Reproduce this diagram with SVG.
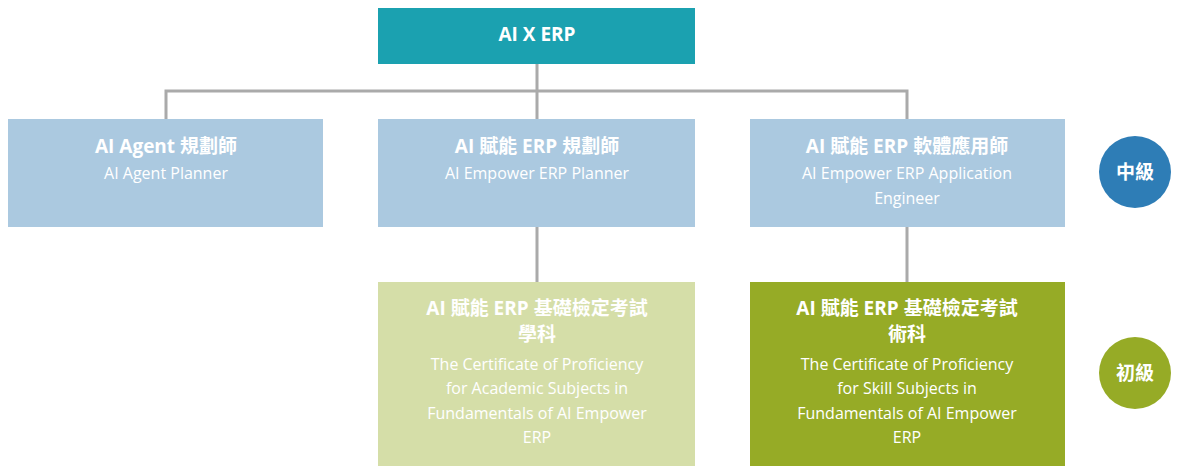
<svg xmlns="http://www.w3.org/2000/svg" width="1177" height="474" viewBox="0 0 1177 474">
<style>
.t{font-family:"Open Sans","Noto Sans CJK TC",sans-serif;fill:#fff;text-anchor:middle}
.b{font-weight:bold;font-size:19px}
.s{font-size:16px}
.c{stroke:#aaaaaa;stroke-width:3;fill:none}
</style>
<rect width="1177" height="474" fill="#fff"/>
<g id="connectors">
<path class="c" d="M537 64V119M166 119V91H907V119M537 227V282M907 227V282"/>
</g>
<g id="top"><rect x="378" y="8" width="317" height="56" fill="#1ba1b0"/><text class="t b" x="537" y="41">AI X ERP</text></g>
<g id="n1"><rect x="8" y="119" width="315" height="108" fill="#abc9e0"/><text class="t b" x="166" y="153">AI Agent 規劃師</text><text class="t s" x="166" y="179">AI Agent Planner</text></g>
<g id="n2"><rect x="378" y="119" width="317" height="108" fill="#abc9e0"/><text class="t b" x="537" y="153">AI 賦能 ERP 規劃師</text><text class="t s" x="537" y="179">AI Empower ERP Planner</text></g>
<g id="n3"><rect x="750" y="119" width="315" height="108" fill="#abc9e0"/><text class="t b" x="907" y="153">AI 賦能 ERP 軟體應用師</text><text class="t s" x="907" y="179">AI Empower ERP Application</text><text class="t s" x="907" y="204">Engineer</text></g>
<g id="n4"><rect x="378" y="282" width="317" height="184" fill="#d5dea8"/><text class="t b" x="537" y="315">AI 賦能 ERP 基礎檢定考試</text><text class="t b" x="537" y="341">學科</text><text class="t s" x="537" y="370">The Certificate of Proficiency</text><text class="t s" x="537" y="394">for Academic Subjects in</text><text class="t s" x="537" y="419">Fundamentals of AI Empower</text><text class="t s" x="537" y="443">ERP</text></g>
<g id="n5"><rect x="750" y="282" width="315" height="184" fill="#96ab26"/><text class="t b" x="907" y="315">AI 賦能 ERP 基礎檢定考試</text><text class="t b" x="907" y="341">術科</text><text class="t s" x="907" y="370">The Certificate of Proficiency</text><text class="t s" x="907" y="394">for Skill Subjects in</text><text class="t s" x="907" y="419">Fundamentals of AI Empower</text><text class="t s" x="907" y="443">ERP</text></g>
<g id="mid"><circle cx="1135" cy="172" r="36" fill="#2e7db6"/><text class="t b" x="1135" y="179">中級</text></g>
<g id="basic"><circle cx="1135" cy="373" r="36" fill="#96ab26"/><text class="t b" x="1135" y="380">初級</text></g>
</svg>
